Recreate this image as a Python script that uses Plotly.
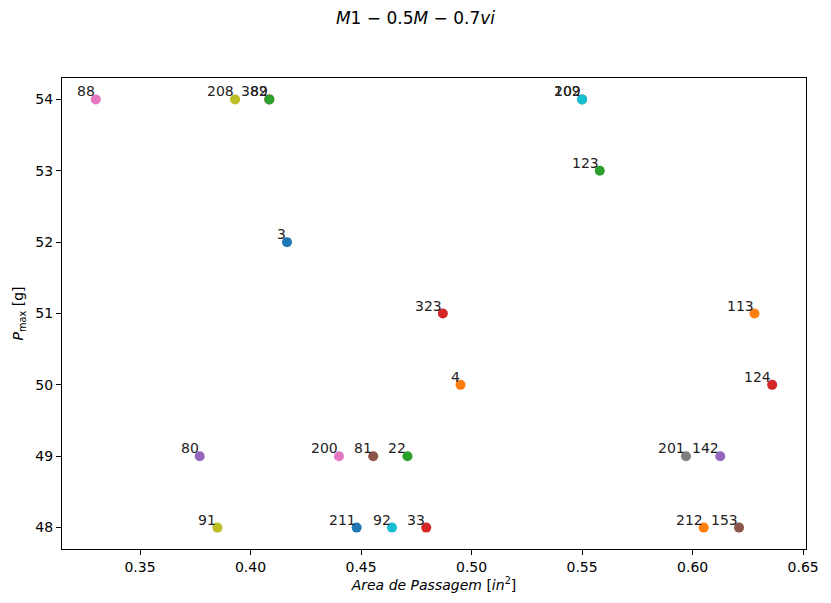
import plotly.graph_objects as go

labels = ["88", "208", "382", "89", "209", "102", "123", "3", "323", "113", "4", "124",
          "80", "200", "81", "22", "201", "142", "91", "211", "92", "33", "212", "153"]
area = [0.330, 0.393, 0.4085, 0.4085, 0.550, 0.550, 0.558, 0.4165, 0.487, 0.628, 0.495, 0.636,
        0.377, 0.440, 0.4555, 0.471, 0.597, 0.6125, 0.385, 0.448, 0.464, 0.4795, 0.605, 0.621]
pmax = [54, 54, 54, 54, 54, 54, 53, 52, 51, 51, 50, 50,
        49, 49, 49, 49, 49, 49, 48, 48, 48, 48, 48, 48]
colors = ["#e377c2", "#bcbd22", "#d62728", "#2ca02c", "#7f7f7f", "#17becf", "#2ca02c", "#1f77b4",
          "#d62728", "#ff7f0e", "#ff7f0e", "#d62728", "#9467bd", "#e377c2", "#8c564b", "#2ca02c",
          "#7f7f7f", "#9467bd", "#bcbd22", "#1f77b4", "#17becf", "#d62728", "#ff7f0e", "#8c564b"]

font = "DejaVu Sans"
fig = go.Figure()
for lab, x, y, c in zip(labels, area, pmax, colors):
    fig.add_trace(go.Scatter(x=[x], y=[y], mode="markers", name=lab,
                             marker=dict(color=c, size=10), showlegend=False))
    fig.add_annotation(x=x, y=y, text=lab, showarrow=False, xanchor="right", yanchor="bottom",
                       xshift=1, yshift=-2, font=dict(family=font, size=14, color="#222"))

fig.update_layout(
    width=831, height=603, paper_bgcolor="white", plot_bgcolor="white",
    margin=dict(l=62, r=15, t=78, b=51),
    font=dict(family=font, size=14, color="black"),
    title=dict(text="<i>M</i>1 − 0.5<i>M</i> − 0.7<i>vi</i>", x=0.5, xref="container", xanchor="center",
               y=1 - 18 / 603, yref="container", yanchor="middle", font=dict(family=font, size=17)),
)
fig.update_xaxes(range=[0.3147, 0.6513], tickvals=[0.35, 0.40, 0.45, 0.50, 0.55, 0.60, 0.65],
                 ticktext=["0.35", "0.40", "0.45", "0.50", "0.55", "0.60", "0.65"],
                 showgrid=False, zeroline=False, showline=True, linecolor="black", linewidth=1,
                 mirror=True, ticks="outside", ticklen=5, tickcolor="black",
                 title=dict(text="<i>Area de Passagem</i> [<i>in</i><sup>2</sup>]", standoff=6,
                            font=dict(size=14)))
fig.update_yaxes(range=[47.7, 54.3], tickvals=[48, 49, 50, 51, 52, 53, 54],
                 showgrid=False, zeroline=False, showline=True, linecolor="black", linewidth=1,
                 mirror=True, ticks="outside", ticklen=5, tickcolor="black",
                 title=dict(text="<i>P</i><sub>max</sub> [g]", standoff=8, font=dict(size=14)))

fig.write_html("out.html")
